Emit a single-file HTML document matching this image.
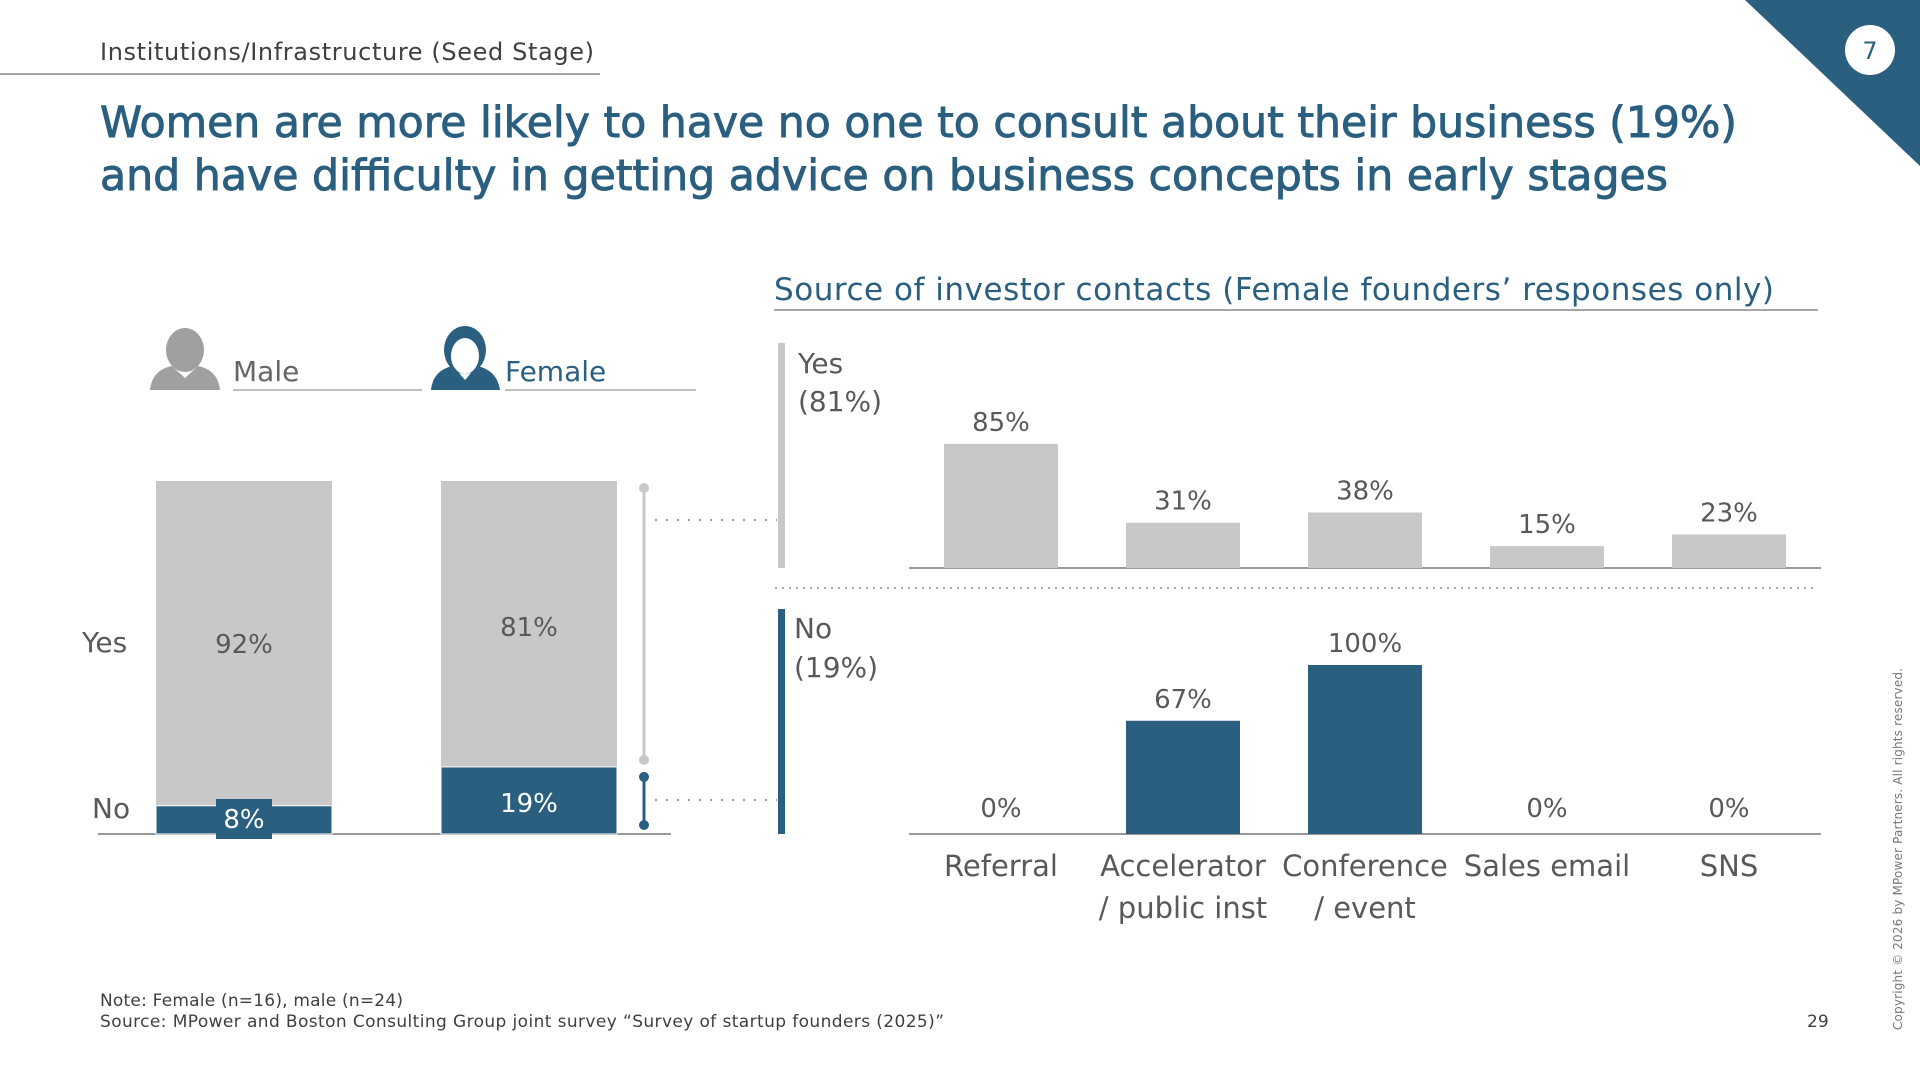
<!DOCTYPE html>
<html><head><meta charset="utf-8"><style>
body{margin:0;width:1920px;height:1080px;background:#fff;position:relative;overflow:hidden;font-family:"DejaVu Sans","Liberation Sans",sans-serif;}
svg{position:absolute;left:0;top:0}
</style></head><body>
<svg width="1920" height="1080" id="s">
<g>
<text x="100" y="60" font-size="24" fill="#404040" textLength="494">Institutions/Infrastructure (Seed Stage)</text>
<line x1="0" y1="74" x2="600" y2="74" stroke="#888" stroke-width="1.5"/>
<polygon points="1745,0 1920,0 1920,166" fill="#2a5f80"/>
<circle cx="1870" cy="50" r="25" fill="#fff"/>
<text x="1870" y="59" font-size="24" fill="#2a5f80" text-anchor="middle">7</text>
<text x="100" y="137" font-size="43" fill="#2a5f80" stroke="#2a5f80" stroke-width="0.9" textLength="1637" lengthAdjust="spacingAndGlyphs">Women are more likely to have no one to consult about their business (19%)</text>
<text x="100" y="190" font-size="43" fill="#2a5f80" stroke="#2a5f80" stroke-width="0.9" textLength="1568" lengthAdjust="spacingAndGlyphs">and have difficulty in getting advice on business concepts in early stages</text>
</g>
<text x="774" y="300" font-size="31" fill="#2a5f80" textLength="1000">Source of investor contacts (Female founders’ responses only)</text>
<line x1="774" y1="310" x2="1818" y2="310" stroke="#888" stroke-width="1.5"/>
<g fill="#a0a0a0">
<ellipse cx="185" cy="350" rx="19" ry="22"/>
<path d="M150 390 Q152 370 172 366 L185 378 L198 366 Q218 370 220 390 Z"/>
</g>
<text x="233" y="381" font-size="28" fill="#666">Male</text>
<line x1="233" y1="390" x2="422" y2="390" stroke="#aaa" stroke-width="1.5"/>
<g fill="#2a5f80">
<ellipse cx="465" cy="350" rx="21" ry="24"/>
<ellipse cx="465" cy="356" rx="14" ry="18" fill="#fff"/>
<path d="M431 390 Q433 370 453 366 L465 380 L477 366 Q497 370 500 390 Z"/>
</g>
<text x="505" y="381" font-size="28" fill="#2a5f80">Female</text>
<line x1="505" y1="390" x2="696" y2="390" stroke="#aaa" stroke-width="1.5"/>
<g id="left"></g>
<g id="right"></g>
<text x="100" y="1006" font-size="17" fill="#404040" textLength="303">Note: Female (n=16), male (n=24)</text>
<text x="100" y="1027" font-size="17" fill="#404040" textLength="844">Source: MPower and Boston Consulting Group joint survey “Survey of startup founders (2025)”</text>
<text x="1807" y="1027" font-size="17" fill="#404040">29</text>
<text transform="translate(1902,1030) rotate(-90)" font-size="12" fill="#777" textLength="362">Copyright © 2026 by MPower Partners. All rights reserved.</text>
</svg>
<script>
const groups=["Male","Female"];
const yesVals=[92,81];
const noVals=[8,19];
const cats=[["Referral"],["Accelerator","/ public inst"],["Conference","/ event"],["Sales email"],["SNS"]];
const yesSrc=[85,31,38,15,23];
const noSrc=[0,67,100,0,0];
const NS="http://www.w3.org/2000/svg";
const BLUE="#2a5f80",GRAY="#c8c8c8",TXT="#595959";
function el(p,t,a,txt){const e=document.createElementNS(NS,t);for(const k in a)e.setAttribute(k,a[k]);if(txt!=null)e.textContent=txt;p.appendChild(e);return e;}
const L=document.getElementById('left');
const lBase=834,lH=353,lx=[156,441],lw=176;
const ly=v=>lBase-v/100*lH;
el(L,'line',{x1:98,y1:lBase,x2:671,y2:lBase,stroke:'#999','stroke-width':2});
let t=el(L,'text',{x:82,y:652,'font-size':28,fill:TXT},'Yes');

t=el(L,'text',{x:92,y:818,'font-size':28,fill:TXT},'No');

groups.forEach((g,i)=>{
  const yTop=ly(noVals[i]+yesVals[i]),yMid=ly(noVals[i]);
  let r=el(L,'rect',{x:lx[i],y:yTop,width:lw,height:yMid-yTop,fill:GRAY});
  
  r=el(L,'rect',{x:lx[i],y:yMid,width:lw,height:lBase-yMid,fill:BLUE,stroke:'#fff','stroke-width':1});
  
  const cx=lx[i]+lw/2;
  t=el(L,'text',{x:cx,y:i==0?653:636,'font-size':26,fill:TXT,'text-anchor':'middle'},yesVals[i]+'%');
  
  if(noVals[i]<12){el(L,'rect',{x:cx-28,y:799,width:56,height:40,fill:BLUE});}
  t=el(L,'text',{x:cx,y:noVals[i]<12?828:812,'font-size':26,fill:'#fff','text-anchor':'middle'},noVals[i]+'%');
  
});
const fy=ly(noVals[1]+yesVals[1]),fm=ly(noVals[1]);
el(L,'line',{x1:644,y1:fy+7,x2:644,y2:fm-7,stroke:GRAY,'stroke-width':3});
el(L,'circle',{cx:644,cy:fy+7,r:5,fill:GRAY});el(L,'circle',{cx:644,cy:fm-7,r:5,fill:GRAY});
el(L,'line',{x1:644,y1:fm+10,x2:644,y2:lBase-9,stroke:BLUE,'stroke-width':3});
el(L,'circle',{cx:644,cy:fm+10,r:5,fill:BLUE});el(L,'circle',{cx:644,cy:lBase-9,r:5,fill:BLUE});
el(L,'line',{x1:655,y1:520,x2:777,y2:520,stroke:'#999','stroke-width':2,'stroke-dasharray':'2 9'});
el(L,'line',{x1:655,y1:800,x2:777,y2:800,stroke:'#999','stroke-width':2,'stroke-dasharray':'2 9'});
const R=document.getElementById('right');
el(R,'rect',{x:778,y:343,width:7,height:225,fill:GRAY});
el(R,'rect',{x:778,y:609,width:7,height:225,fill:BLUE});
t=el(R,'text',{x:798,y:373,'font-size':28,fill:TXT},'Yes');
el(R,'text',{x:798,y:411,'font-size':28,fill:TXT},'(81%)');
t=el(R,'text',{x:794,y:638,'font-size':28,fill:TXT},'No');
el(R,'text',{x:794,y:677,'font-size':28,fill:TXT},'(19%)');
el(R,'line',{x1:775,y1:588,x2:1816,y2:588,stroke:'#aaa','stroke-width':2,'stroke-dasharray':'2 5'});
const topBase=568,botBase=834,topK=1.46,botK=1.69,cx0=1001,pitch=182,bw=114;
const xc=i=>cx0+i*pitch;
el(R,'line',{x1:909,y1:topBase,x2:1821,y2:topBase,stroke:'#999','stroke-width':2});
el(R,'line',{x1:909,y1:botBase,x2:1821,y2:botBase,stroke:'#999','stroke-width':2});
cats.forEach((c,i)=>{
  const h1=yesSrc[i]*topK;
  let r=el(R,'rect',{x:xc(i)-bw/2,y:topBase-h1,width:bw,height:h1,fill:GRAY});
  
  t=el(R,'text',{x:xc(i),y:topBase-h1-13,'font-size':26,fill:TXT,'text-anchor':'middle'},yesSrc[i]+'%');
  
  const h2=noSrc[i]*botK;
  r=el(R,'rect',{x:xc(i)-bw/2,y:botBase-h2,width:bw,height:h2,fill:BLUE});
  
  t=el(R,'text',{x:xc(i),y:botBase-h2-13-(h2==0?4:0),'font-size':26,fill:TXT,'text-anchor':'middle'},noSrc[i]+'%');
  
  c.forEach((ln,j)=>{
    t=el(R,'text',{x:xc(i),y:876+j*42,'font-size':29,fill:TXT,'text-anchor':'middle'},ln);
    
  });
});
</script>
</body></html>
